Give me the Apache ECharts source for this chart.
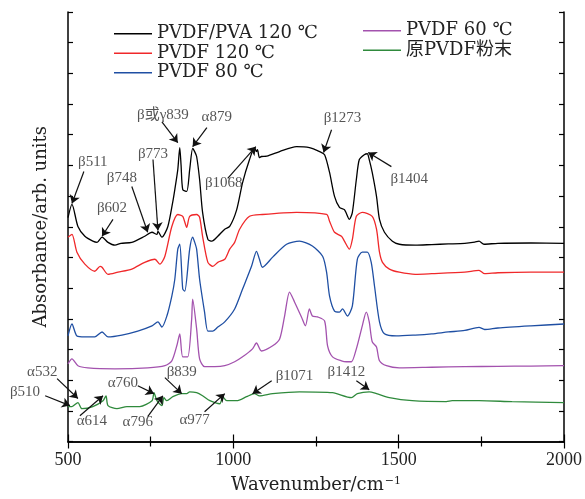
<!DOCTYPE html>
<html>
<head>
<meta charset="utf-8">
<script src="https://cdn.jsdelivr.net/npm/echarts@6/dist/echarts.min.js"></script>
<style>
  html, body { margin: 0; padding: 0; background: #fff; }
  #chart { width: 585px; height: 499px; }
</style>
</head>
<body>
<div id="chart"></div>
<script>
// FTIR spectra, offset vertically (arbitrary absorbance units)
const seriesNames = ['PVDF/PVA 120 ℃', 'PVDF 120 ℃', 'PVDF 80 ℃', 'PVDF 60 ℃', '原PVDF粉末'];

const wnPvdfPva120 = [500, 512, 530, 551, 575, 588, 603, 621, 642, 660, 693, 732, 754, 769, 772, 784, 802, 817, 823, 832, 838, 842, 847, 859, 868, 877, 883, 889, 898, 907, 923, 935, 953, 974, 989, 1010, 1028, 1049, 1064, 1070, 1073, 1079, 1085, 1101, 1140, 1191, 1230, 1261, 1276, 1291, 1306, 1321, 1336, 1351, 1360, 1372, 1381, 1396, 1405, 1411, 1420, 1433, 1442, 1457, 1481, 1502, 1550, 1600, 1650, 1700, 1730, 1743, 1758, 1800, 1900, 2000];
const absPvdfPva120 = [7.30, 7.73, 7.01, 6.69, 6.53, 6.49, 6.66, 6.49, 6.40, 6.46, 6.49, 6.69, 6.82, 6.75, 6.85, 6.66, 7.01, 7.82, 8.21, 8.86, 9.58, 9.00, 8.21, 8.15, 8.86, 9.55, 9.45, 9.29, 8.54, 7.47, 6.59, 6.53, 6.69, 6.92, 7.01, 7.55, 8.44, 9.19, 9.58, 9.45, 9.51, 9.25, 9.29, 9.30, 9.45, 9.61, 9.58, 9.45, 9.35, 8.77, 7.99, 7.63, 7.56, 7.24, 7.47, 8.54, 9.19, 9.35, 9.38, 9.19, 8.77, 7.99, 7.24, 6.82, 6.53, 6.43, 6.40, 6.42, 6.44, 6.46, 6.50, 6.53, 6.43, 6.46, 6.47, 6.46];

const wnPvdf120 = [500, 512, 527, 551, 581, 597, 603, 621, 651, 693, 732, 763, 778, 793, 814, 832, 847, 859, 868, 889, 898, 907, 923, 938, 953, 974, 989, 1004, 1019, 1049, 1088, 1191, 1282, 1291, 1306, 1327, 1336, 1351, 1360, 1372, 1390, 1420, 1433, 1442, 1451, 1472, 1502, 1550, 1600, 1700, 1743, 1760, 1800, 1900, 2000];
const absPvdf120 = [6.66, 6.75, 6.17, 5.78, 5.55, 5.71, 5.68, 5.45, 5.52, 5.62, 5.84, 5.94, 5.78, 6.04, 7.01, 7.40, 7.34, 6.98, 7.34, 7.40, 7.31, 6.69, 5.84, 5.71, 5.84, 5.94, 6.27, 6.49, 6.92, 7.34, 7.40, 7.47, 7.40, 7.18, 6.82, 6.69, 6.53, 6.27, 6.59, 7.34, 7.47, 7.34, 6.92, 6.17, 5.84, 5.62, 5.52, 5.45, 5.47, 5.52, 5.58, 5.47, 5.50, 5.52, 5.52];

const wnPvdf80 = [500, 512, 527, 551, 581, 603, 621, 663, 711, 754, 772, 784, 799, 814, 823, 832, 838, 847, 853, 868, 877, 883, 889, 898, 913, 923, 938, 953, 974, 1004, 1028, 1055, 1070, 1079, 1088, 1119, 1161, 1200, 1239, 1270, 1282, 1291, 1306, 1321, 1330, 1345, 1360, 1375, 1390, 1405, 1417, 1427, 1442, 1457, 1493, 1550, 1600, 1650, 1700, 1743, 1760, 1800, 1900, 2000];
const absPvdf80 = [3.44, 3.83, 3.44, 3.41, 3.41, 3.57, 3.41, 3.47, 3.60, 3.77, 3.90, 3.73, 4.09, 4.74, 5.29, 6.27, 6.43, 4.97, 4.90, 6.27, 6.66, 6.50, 6.27, 5.29, 4.22, 3.60, 3.60, 3.73, 3.90, 4.32, 4.97, 5.71, 6.20, 5.94, 5.68, 6.01, 6.43, 6.53, 6.37, 6.04, 5.52, 4.74, 4.25, 4.22, 4.32, 4.09, 4.42, 5.94, 6.17, 6.17, 5.84, 5.06, 3.90, 3.51, 3.44, 3.47, 3.51, 3.57, 3.62, 3.72, 3.65, 3.70, 3.77, 3.83];

const wnPvdf60 = [500, 512, 530, 560, 642, 741, 793, 814, 829, 838, 847, 862, 874, 877, 889, 898, 913, 944, 974, 1004, 1028, 1058, 1070, 1085, 1119, 1140, 1155, 1170, 1185, 1206, 1218, 1230, 1239, 1255, 1276, 1285, 1300, 1327, 1342, 1357, 1372, 1390, 1402, 1411, 1420, 1433, 1442, 1463, 1502, 1600, 1700, 1800, 1900, 2000];
const absPvdf60 = [2.53, 2.69, 2.47, 2.40, 2.37, 2.40, 2.47, 2.63, 3.12, 3.51, 2.76, 2.76, 3.99, 4.64, 3.67, 2.69, 2.44, 2.44, 2.47, 2.60, 2.76, 3.02, 3.21, 2.95, 3.12, 3.34, 4.09, 4.87, 4.55, 4.06, 3.77, 4.32, 4.09, 4.06, 3.93, 3.12, 2.76, 2.63, 2.60, 2.60, 3.02, 3.77, 4.22, 3.90, 3.25, 3.08, 2.63, 2.47, 2.40, 2.42, 2.44, 2.45, 2.46, 2.47];

const wnRawPowder = [500, 512, 530, 542, 575, 606, 615, 621, 648, 678, 717, 754, 760, 769, 784, 790, 799, 817, 844, 859, 868, 889, 907, 929, 959, 968, 980, 1010, 1040, 1064, 1079, 1119, 1200, 1300, 1357, 1375, 1411, 1433, 1472, 1541, 1644, 1662, 1743, 1843, 2000];
const absRawPowder = [1.14, 1.14, 1.27, 1.07, 1.14, 1.33, 1.49, 1.17, 1.07, 1.14, 1.14, 1.33, 1.59, 1.33, 1.17, 1.43, 1.33, 1.46, 1.56, 1.56, 1.62, 1.59, 1.49, 1.33, 1.23, 1.46, 1.33, 1.33, 1.46, 1.56, 1.49, 1.56, 1.62, 1.59, 1.43, 1.56, 1.62, 1.56, 1.43, 1.33, 1.30, 1.33, 1.33, 1.30, 1.27];

const seriesColors = ['#000000', '#f0282a', '#1f4fa3', '#a352ae', '#2f8a3c'];

// Peak labels: [text, label x, label y, arrow tail x, tail y, arrow head x, head y]
const peakNotes = [
  ['β511', 575, 9.12, 548, 8.80, 512, 7.76],
  ['β602', 633, 7.60, 636, 7.24, 603, 6.69],
  ['β748', 663, 8.60, 693, 8.31, 741, 6.82],
  ['β773', 757, 9.38, 757, 9.19, 772, 6.88],
  ['β或γ839', 787, 10.65, 784, 10.42, 832, 9.74],
  ['α879', 950, 10.58, 920, 10.23, 877, 9.61],
  ['β1068', 971, 8.44, 983, 8.58, 1068, 9.61],
  ['β1273', 1330, 10.55, 1297, 10.16, 1273, 9.42],
  ['β1404', 1532, 8.54, 1478, 8.96, 1408, 9.42],
  ['β510', 370, 1.62, 431, 1.49, 506, 1.17],
  ['α532', 422, 2.27, 467, 2.05, 530, 1.40],
  ['α614', 572, 0.68, 536, 0.84, 606, 1.49],
  ['α760', 666, 1.92, 711, 1.82, 760, 1.56],
  ['α796', 711, 0.62, 741, 0.81, 787, 1.49],
  ['β839', 844, 2.27, 793, 2.08, 844, 1.56],
  ['α977', 883, 0.71, 913, 0.97, 974, 1.56],
  ['β1071', 1185, 2.14, 1116, 1.98, 1058, 1.56],
  ['β1412', 1342, 2.27, 1372, 1.98, 1411, 1.69]
];

const wnSets = [wnPvdfPva120, wnPvdf120, wnPvdf80, wnPvdf60, wnRawPowder];
const absSets = [absPvdfPva120, absPvdf120, absPvdf80, absPvdf60, absRawPowder];

const serif = "'Liberation Serif', 'DejaVu Serif', 'Noto Sans CJK SC', serif";
const wideSerif = "'DejaVu Serif', 'Liberation Serif', 'Noto Sans CJK SC', serif";

const spectra = seriesNames.map((name, i) => ({
  name: name,
  type: 'line',
  xAxisIndex: 0,
  yAxisIndex: 0,
  symbol: 'none',
  smooth: 0.25,
  data: wnSets[i].map((w, k) => [w, absSets[i][k]]),
  lineStyle: { color: seriesColors[i], width: 1.3 },
  itemStyle: { color: seriesColors[i] },
  z: 10 - i
}));

const arrows = {
  type: 'lines',
  coordinateSystem: 'cartesian2d',
  xAxisIndex: 0,
  yAxisIndex: 0,
  clip: false,
  symbol: ['none', 'arrow'],
  symbolSize: 8,
  silent: true,
  lineStyle: { color: '#111', width: 1.2, opacity: 1 },
  data: peakNotes.map(n => ({ coords: [[n[3], n[4]], [n[5], n[6]]] })),
  z: 20
};

const noteLabels = {
  type: 'scatter',
  xAxisIndex: 0,
  yAxisIndex: 0,
  clip: false,
  symbolSize: 1,
  silent: true,
  itemStyle: { color: 'rgba(0,0,0,0)' },
  data: peakNotes.map(n => [n[1], n[2], n[0]]),
  label: {
    show: true,
    position: 'inside',
    formatter: p => p.data[2],
    fontFamily: serif,
    fontSize: 15,
    color: '#2a2a2a'
  },
  z: 21
};

const legendText = { fontFamily: wideSerif, fontSize: 18, color: '#222', lineHeight: 19.5 };

const legendCommon = {
  orient: 'vertical',
  icon: 'rect',
  itemWidth: 38,
  itemHeight: 1.5,
  itemGap: 0,
  textStyle: legendText
};

const chart = echarts.init(document.getElementById('chart'), null, { renderer: 'canvas' });
chart.setOption({
  animation: false,
  backgroundColor: '#fff',
  grid: { left: 68, right: 20, top: 12, bottom: 56 },
  legend: [
    Object.assign({ data: seriesNames.slice(0, 3), left: 109, top: 19 }, legendCommon),
    Object.assign({ data: seriesNames.slice(3), left: 358, top: 16 }, legendCommon)
  ],
  xAxis: [
    {
      type: 'value',
      min: 500,
      max: 2000,
      interval: 500,
      position: 'bottom',
      name: 'Wavenumber/{n|cm}{s|−1}',
      nameLocation: 'middle',
      nameGap: 34,
      nameTextStyle: {
        fontFamily: wideSerif, fontSize: 18, color: '#222',
        rich: {
          n: { fontFamily: wideSerif, fontSize: 18, color: '#222' },
          s: { fontFamily: wideSerif, fontSize: 11, color: '#222', verticalAlign: 'top', padding: [0, 0, 8, 1] }
        }
      },
      axisLine: { lineStyle: { color: '#000', width: 1.5 } },
      axisTick: { inside: true, length: 7, lineStyle: { color: '#000', width: 1.2 } },
      minorTick: { show: true, splitNumber: 2, length: 5, lineStyle: { color: '#000', width: 1.2 } },
      axisLabel: { margin: 10, fontFamily: serif, fontSize: 18, color: '#222', formatter: v => String(v) },
      splitLine: { show: false }
    },
    {
      type: 'value',
      min: 500,
      max: 2000,
      interval: 500,
      position: 'top',
      axisLine: { lineStyle: { color: '#000', width: 1.5 } },
      axisTick: { inside: true, length: 7, lineStyle: { color: '#000', width: 1.2 } },
      minorTick: { show: true, splitNumber: 2, length: 5, lineStyle: { color: '#000', width: 1.2 } },
      axisLabel: { show: false },
      splitLine: { show: false }
    }
  ],
  yAxis: [
    {
      type: 'value',
      min: 0,
      max: 14,
      interval: 1,
      position: 'left',
      name: 'Absorbance/arb. units',
      nameLocation: 'middle',
      nameGap: 18,
      nameTextStyle: { fontFamily: wideSerif, fontSize: 18, color: '#222' },
      axisLine: { lineStyle: { color: '#000', width: 1.5 } },
      axisTick: { inside: true, length: 5, lineStyle: { color: '#000', width: 1.2 } },
      axisLabel: { show: false },
      splitLine: { show: false }
    },
    {
      type: 'value',
      min: 0,
      max: 14,
      interval: 1,
      position: 'right',
      axisLine: { lineStyle: { color: '#000', width: 1.5 } },
      axisTick: { inside: true, length: 5, lineStyle: { color: '#000', width: 1.2 } },
      axisLabel: { show: false },
      splitLine: { show: false }
    }
  ],
  series: spectra.concat([arrows, noteLabels])
});
</script>
</body>
</html>
